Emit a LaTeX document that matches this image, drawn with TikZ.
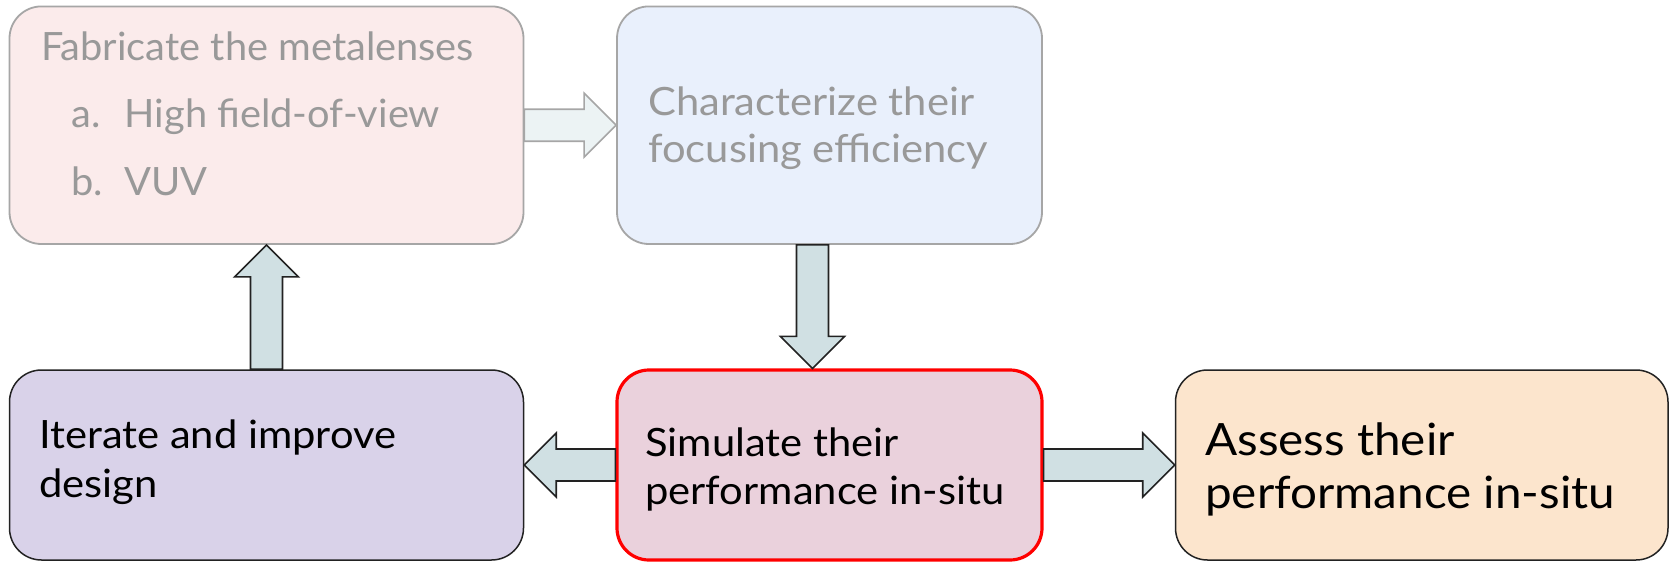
\documentclass[tikz,border=0pt]{standalone}
\usepackage{fontspec}
\setmainfont{Lato}[FakeStretch=1.07]
\newfontfamily\fabfont{Lato}[FakeStretch=1.02]
\usetikzlibrary{calc}
\definecolor{fabfill}{HTML}{FBEBEB}
\definecolor{charfill}{HTML}{E9F0FC}
\definecolor{fadeline}{HTML}{A6A6A6}
\definecolor{fadetext}{HTML}{999999}
\definecolor{iterfill}{HTML}{D9D2E9}
\definecolor{simfill}{HTML}{EAD1DC}
\definecolor{assfill}{HTML}{FCE5CD}
\definecolor{arrfill}{HTML}{D0E0E3}
\definecolor{arrfade}{HTML}{ECF3F4}
\definecolor{darkline}{HTML}{222222}
\newcommand\blkarrow[3][]{%
  \coordinate (bkA) at (#2);
  \coordinate (bkB) at (#3);
  \coordinate (bkH) at ($(bkB)!32pt!(bkA)$);
  \draw[#1] ($(bkA)!16pt!90:(bkB)$) -- ($(bkH)!16pt!90:(bkB)$) -- ($(bkH)!32pt!90:(bkB)$) -- (bkB) -- ($(bkH)!32pt!-90:(bkB)$) -- ($(bkH)!16pt!-90:(bkB)$) -- ($(bkA)!16pt!-90:(bkB)$) -- cycle;}
\begin{document}
\begin{tikzpicture}[x=1pt,y=-1pt,
  box/.style={rectangle, rounded corners=32pt, inner sep=0pt, line width=1.5pt},
  fadebox/.style={box, draw=fadeline, line width=1.8pt},
  txt/.style={anchor=base west, inner sep=0pt, font=\fontsize{39}{47}\selectfont},
  fabtxt/.style={anchor=base west, inner sep=0pt, text=fadetext, font=\fabfont\fontsize{39}{47}\selectfont},
  bigtxt/.style={anchor=base west, inner sep=0pt, font=\fontsize{44.5}{53}\selectfont},
  arr/.style={fill=arrfill, draw=darkline, line width=1.6pt, line join=miter},
  fadearr/.style={fill=arrfade, draw=fadeline, line width=1.6pt, line join=miter}]
\useasboundingbox (0,0) rectangle (1671,562);
\fill[white] (0,0) rectangle (1671,562);
% boxes
\node[fadebox, fill=fabfill, minimum width=514pt, minimum height=237.6pt] (fab) at (266.5,125.2) {};
\node[fadebox, fill=charfill, minimum width=425pt, minimum height=237.6pt] (char) at (829.5,125.2) {};
\node[box, draw=darkline, fill=iterfill, minimum width=514pt, minimum height=190pt] (iter) at (266.5,465) {};
\node[box, draw=red, line width=3.2pt, fill=simfill, minimum width=425pt, minimum height=190pt] (sim) at (829.5,465) {};
\node[box, draw=darkline, fill=assfill, minimum width=492.5pt, minimum height=190pt] (assess) at (1421.75,465) {};
% texts
\node[fabtxt] (t1) at (40.9,60) {Fabricate the metalenses};
\node[fabtxt] (t1a) at (71.2,127) {a.};
\node[fabtxt] (t1b) at (124.5,127) {High field-of-view};
\node[fabtxt] (t1c) at (71.2,195) {b.};
\node[fabtxt] (t1d) at (124.5,195) {VUV};
\node[txt, text=fadetext] (t2) at (648,115) {Characterize their};
\node[txt, text=fadetext] (t2b) at (648,162) {focusing efficiency};
\node[txt] (t3) at (39,448) {Iterate and improve};
\node[txt] (t3b) at (39,497) {design};
\node[txt] (t4) at (645,456) {Simulate their};
\node[txt] (t4b) at (645,504) {performance in-situ};
\node[bigtxt] (t5) at (1205,455) {Assess their};
\node[bigtxt] (t5b) at (1205,508) {performance in-situ};
% arrows
\blkarrow[fadearr]{fab.east}{char.west}
\blkarrow[arr]{[xshift=-17pt]char.south}{[xshift=-17pt]sim.north}
\blkarrow[arr]{sim.west}{iter.east}
\blkarrow[arr]{sim.east}{assess.west}
\blkarrow[arr]{iter.north}{fab.south}
\end{tikzpicture}
\end{document}
